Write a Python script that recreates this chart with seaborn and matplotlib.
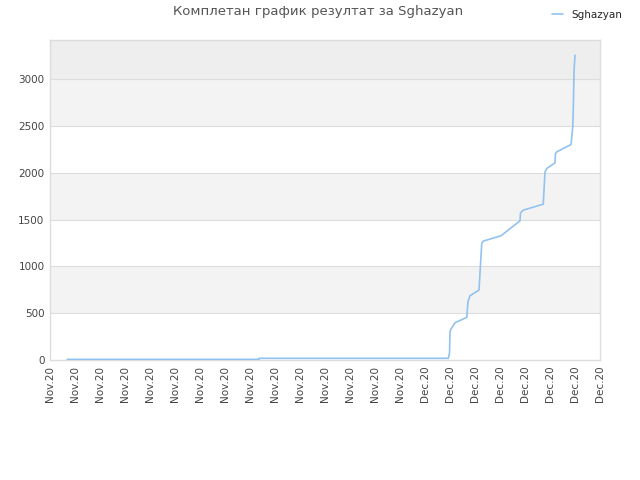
import numpy as np
import pandas as pd
import matplotlib
matplotlib.use("Agg")
import matplotlib.pyplot as plt
import matplotlib.dates as mdates
import seaborn as sns

TITLE = "Комплетан график резултат за Sghazyan"
PLAYER = "Sghazyan"
START = pd.Timestamp("2020-11-16")
N_DAYS = 22

# time in days after START, cumulative score
DAYS = [0.69, 8.36, 8.37, 15.93, 15.98, 16.0, 16.04, 16.2, 16.67, 16.72, 16.8,
        17.16, 17.27, 17.33, 18.04, 18.8, 18.82, 18.93, 19.73, 19.8, 19.87,
        20.2, 20.22, 20.27, 20.84, 20.91, 20.93, 20.96, 21.0]
SCORES = [7, 7, 18, 18, 70, 300, 330, 398, 456, 623, 687,
          747, 1246, 1270, 1327, 1487, 1573, 1601, 1665, 2010, 2046,
          2106, 2206, 2224, 2302, 2491, 2669, 3078, 3256]

df = pd.DataFrame({
    "time": START + pd.to_timedelta(DAYS, unit="D"),
    "score": SCORES,
})

sns.set_style("white")
plt.rcParams["font.family"] = ["DejaVu Sans"]

fig = plt.figure(figsize=(6.4, 4.8), dpi=100)
ax = fig.add_axes([50 / 640, 1 - 360 / 480, 550 / 640, 320 / 480])

ymax = max(SCORES) * 1.05
ax.set_ylim(0, ymax)
ax.set_yticks(np.arange(0, 3001, 500))
for lo in (500, 1500, 2500):
    ax.axhspan(lo, lo + 500, color="#f3f3f3", zorder=0, lw=0)
ax.axhspan(3000, ymax, color="#eeeeee", zorder=0, lw=0)
for y in range(500, 3001, 500):
    ax.axhline(y, color="#dddddd", lw=0.8, zorder=1)

sns.lineplot(data=df, x="time", y="score", ax=ax, color="#92c2f0",
             lw=1.2, label=PLAYER, zorder=3)

ticks = pd.date_range(START, periods=N_DAYS + 1, freq="D")
ax.set_xlim(ticks[0], ticks[-1])
ax.set_xticks(ticks)
ax.xaxis.set_major_formatter(mdates.DateFormatter("%b.%y"))
plt.setp(ax.get_xticklabels(), rotation=90)
ax.tick_params(axis="both", labelsize=7.5, colors="#444444", length=0, pad=4)
ax.set_xlabel("")
ax.set_ylabel("")

for s in ax.spines.values():
    s.set_color("#dddddd")
    s.set_linewidth(1)

ax.get_legend().remove()
h, l = ax.get_legend_handles_labels()
fig.legend(h, l, loc="center left", bbox_to_anchor=(543 / 640, 1 - 15 / 480),
           frameon=False, fontsize=7.5, handlelength=1.0, handletextpad=0.8)

fig.text(318 / 640, 1 - 12 / 480, TITLE, ha="center", va="center",
         fontsize=9.5, color="#555555")

fig.savefig("out.png", dpi=100)
